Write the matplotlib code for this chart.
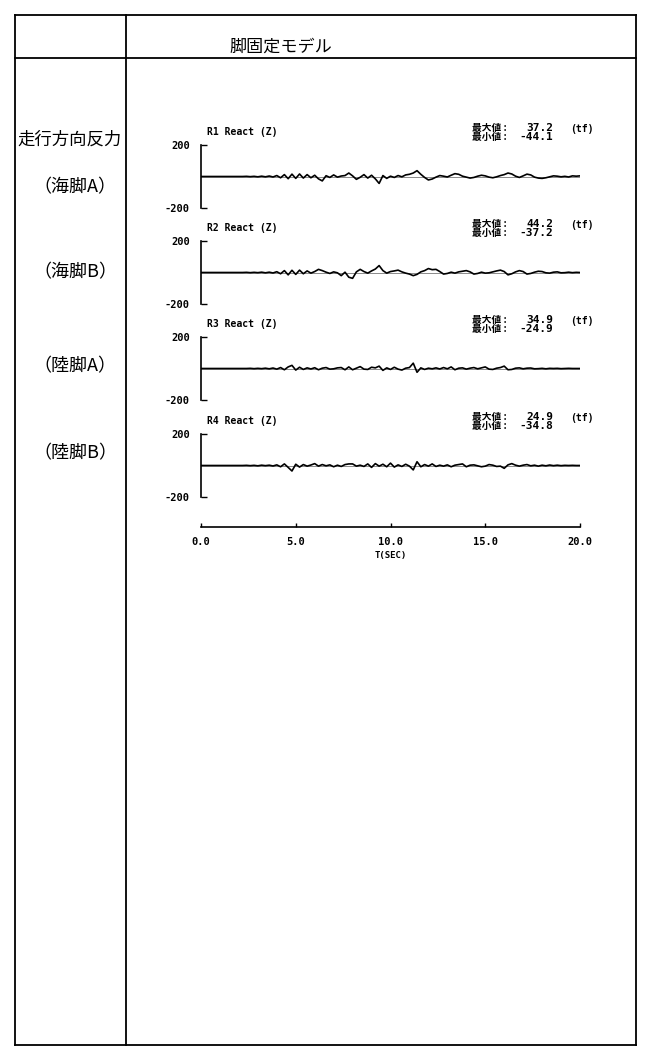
import matplotlib.pyplot as plt
import numpy as np
from matplotlib.lines import Line2D

plt.rcParams['font.family'] = ['Noto Sans CJK JP', 'DejaVu Sans']

# time axis (sec), 0.2 s step
t = np.arange(0, 20.01, 0.2)

# reaction force (tf)
r1 = [0, 0, 0, 0, 0, 0, 0, 0, 0, 0,
      0, 0, 1, -1, 1, -2, 2, -2, 3, -3,
      6, -8, 12, -14, 15, -12, 16, -10, 12, -8,
      8, -15, -28, 5, -6, 10, -4, 3, 6, 22,
      4, -18, -5, 12, -10, 8, -15, -44, 6, -12,
      2, -6, 6, -2, 10, 14, 22, 37, 14, -6,
      -22, -16, -4, 6, 2, -3, 8, 18, 14, 2,
      -4, -10, -6, 2, 8, 4, -4, -8, -2, 6,
      12, 22, 16, 2, -6, 4, 15, 10, -4, -10,
      -12, -8, -2, 4, 2, -2, 1, -3, 4, 2,
      4]
r2 = [0, 0, 0, 0, 0, 0, 0, 0, 0, 0,
      0, 0, 1, -1, 1, -1, 2, -2, 2, -3,
      5, -8, 12, -15, 14, -12, 15, -8, 10, -4,
      6, 20, 12, 2, -6, 4, -2, -20, 2, -30,
      -37, 4, 20, 6, -4, 10, 22, 44, 12, -4,
      6, 10, 15, 4, -4, -10, -20, -12, 4, 12,
      25, 18, 20, 6, -10, -6, 2, -4, 4, 8,
      12, 4, -10, -6, 2, -4, -2, 4, 10, 15,
      6, -15, -8, 4, 12, 6, -10, -6, 2, 8,
      6, -2, -4, 2, 4, -2, -1, 2, -1, 1,
      0]
r3 = [0, 0, 0, 0, 0, 0, 0, 0, 0, 0,
      0, 0, 0, 1, -1, 1, -1, 2, -2, 3,
      -4, 6, -8, 10, 20, -10, 8, -6, 4, -3,
      5, -8, 2, 6, -4, -2, 4, 6, -8, 10,
      -8, 2, 12, -4, -6, 8, 4, 15, -12, 4,
      -6, 8, -4, -10, 2, 6, 34, -24, 4, -6,
      2, -2, 4, -3, 6, -2, 10, -8, 2, 4,
      -4, 2, 6, -2, 4, 10, -4, -6, 2, 6,
      15, -8, -6, 2, 4, -2, 2, 3, -2, -1,
      1, -2, 1, 0, 1, -1, 0, 1, 0, 0,
      0]
r4 = [0, 0, 0, 0, 0, 0, 0, 0, 0, 0,
      0, 0, 1, -1, 1, -2, 2, -1, 2, -3,
      4, -8, 10, -12, -35, 8, -10, 6, -4, 3,
      12, -4, 6, -2, 4, -8, 2, -6, 6, 10,
      10, -4, 2, -6, 10, -12, 12, -4, 8, -8,
      15, -10, 4, -6, 8, -4, -28, 24, -8, 6,
      -4, 10, -6, 2, -4, 4, -8, 2, 6, 10,
      -8, 2, 4, -2, -8, -4, 6, 2, -6, -4,
      -18, 4, 12, 2, -4, 2, 6, -2, 2, -4,
      2, -2, 3, -1, 2, -1, 1, 0, 1, 0,
      0]

series = [r1, r2, r3, r4]
names = ['R1 React (Z)', 'R2 React (Z)', 'R3 React (Z)', 'R4 React (Z)']
maxv = ['37.2', '44.2', '34.9', '24.9']
minv = ['-44.1', '-37.2', '-24.9', '-34.8']
row_labels = ['（海脚A）', '（海脚B）', '（陸脚A）', '（陸脚B）']

W, H = 650, 1056
fig = plt.figure(figsize=(6.5, 10.56), dpi=100)

def fx(px):
    return px / W

def fy(py):
    return 1 - py / H

def hline(x0, x1, y, lw=1.3):
    fig.add_artist(Line2D([fx(x0), fx(x1)], [fy(y), fy(y)], color='black', lw=lw))

def vline(x, y0, y1, lw=1.3):
    fig.add_artist(Line2D([fx(x), fx(x)], [fy(y0), fy(y1)], color='black', lw=lw))

# table frame
hline(15, 636, 15)
hline(15, 636, 1045)
hline(15, 636, 58)
vline(15, 15, 1045)
vline(636, 15, 1045)
vline(126, 15, 1045)

fig.text(fx(229), fy(47), '脚固定モデル', fontsize=12.3, ha='left', va='center')
fig.text(fx(70), fy(140), '走行方向反力', fontsize=12.5, ha='center', va='center')
for lab, yy in zip(row_labels, [187, 272, 366, 453]):
    fig.text(fx(75), fy(yy), lab, fontsize=13, ha='center', va='center')

mono = ['DejaVu Sans Mono', 'Noto Sans CJK JP']
tops = [145, 241, 337, 434]
ph = 63
for i in range(4):
    top = tops[i]
    ax = fig.add_axes([fx(201), fy(top + ph), (580 - 201) / W, ph / H])
    ax.axhline(0, color='#777777', lw=0.6)
    ax.plot(t, series[i], color='black', lw=1.2)
    ax.set_xlim(0, 20)
    ax.set_ylim(-200, 200)
    for s in ['top', 'right', 'bottom']:
        ax.spines[s].set_visible(False)
    ax.spines['left'].set_linewidth(1.2)
    ax.set_xticks([])
    ax.set_yticks([-200, 200])
    ax.set_yticklabels(['-200', '200'], family=mono, fontsize=7.5, weight='bold')
    ax.tick_params(axis='y', direction='in', length=4, width=1.0, pad=8)
    ax.patch.set_alpha(0)
    fig.text(fx(207), fy(top - 13), names[i], family=mono, fontsize=7, weight='bold', va='center')
    fig.text(fx(472), fy(top - 17), '最大値 :', fontsize=7, weight='bold', va='center')
    fig.text(fx(472), fy(top - 8), '最小値 :', fontsize=7, weight='bold', va='center')
    fig.text(fx(553), fy(top - 17), maxv[i], family=mono, fontsize=8, weight='bold',
             va='center', ha='right')
    fig.text(fx(553), fy(top - 8), minv[i], family=mono, fontsize=8, weight='bold',
             va='center', ha='right')
    fig.text(fx(570), fy(top - 16), '(tf)', family=mono, fontsize=7, weight='bold', va='center')

# time axis
axb = fig.add_axes([fx(201), fy(527), (580 - 201) / W, 0.001])
axb.set_xlim(0, 20)
for s in ['top', 'right', 'left']:
    axb.spines[s].set_visible(False)
axb.spines['bottom'].set_linewidth(1.2)
axb.set_yticks([])
axb.set_xticks([0, 5, 10, 15, 20])
axb.set_xticklabels(['0.0', '5.0', '10.0', '15.0', '20.0'], family=mono, fontsize=7.5, weight='bold')
axb.tick_params(axis='x', direction='in', length=3, width=1.0, pad=7)
axb.set_xlabel('T(SEC)', family=mono, fontsize=6.5, weight='bold', labelpad=3)
axb.patch.set_alpha(0)

fig.savefig('out.png', dpi=100)
